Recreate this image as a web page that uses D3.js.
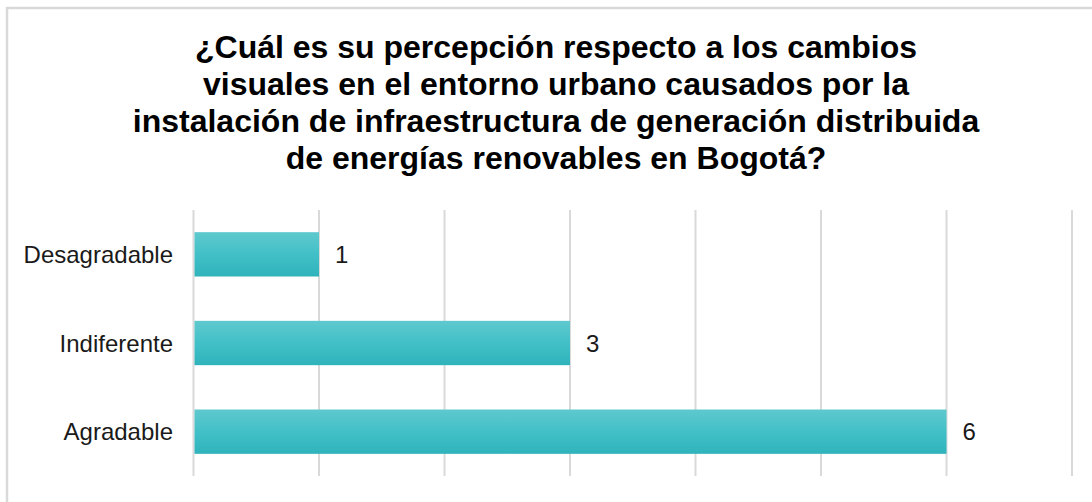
<!DOCTYPE html>
<html>
<head>
<meta charset="utf-8">
<script src="https://d3js.org/d3.v7.min.js"></script>
<style>
  body { margin: 0; background: #fff; }
  svg { display: block; font-family: "Liberation Sans", Arial, sans-serif; }
</style>
</head>
<body>
<div class="board"></div>
<script>
// globals
var width = 1092;
var height = 502;

// data
var categories = ['Desagradable', 'Indiferente', 'Agradable'];
var values = [1, 3, 6];
var tickValues = [0, 1, 2, 3, 4, 5, 6, 7];
var titleLines = [
  '¿Cuál es su percepción respecto a los cambios',
  'visuales en el entorno urbano causados por la',
  'instalación de infraestructura de generación distribuida',
  'de energías renovables en Bogotá?'
];

var svg = d3.select('.board').append('svg')
  .attr('width', width)
  .attr('height', height);

// bar gradient
var grad = svg.append('defs').append('linearGradient')
  .attr('id', 'barGrad')
  .attr('x1', 0).attr('y1', 0).attr('x2', 0).attr('y2', 1);
grad.append('stop').attr('offset', '0%').attr('stop-color', '#5ec9ce');
grad.append('stop').attr('offset', '50%').attr('stop-color', '#42c0c7');
grad.append('stop').attr('offset', '100%').attr('stop-color', '#2fb3bb');

// chart frame (runs off right/bottom like the screenshot)
svg.append('rect')
  .attr('x', 7).attr('y', 8)
  .attr('width', 1100).attr('height', 510)
  .attr('fill', 'none')
  .attr('stroke', '#d9d9d9')
  .attr('stroke-width', 2.5);

// title
svg.append('text')
  .attr('text-anchor', 'middle')
  .attr('font-weight', 'bold')
  .attr('font-size', 32)
  .attr('fill', '#000')
  .selectAll('tspan').data(titleLines)
  .enter().append('tspan')
  .attr('x', 556)
  .attr('y', function(d, i) { return 58 + i * 37; })
  .text(function(d) { return d; });

var x = d3.scaleLinear().domain([0, 7]).range([193.5, 1072]);
var y = d3.scaleBand().domain(categories).range([210, 476])
  .paddingInner(0.5).paddingOuter(0.25);

// gridlines
svg.append('g').selectAll('line').data(tickValues)
  .enter().append('line')
  .attr('x1', function(d) { return x(d); })
  .attr('x2', function(d) { return x(d); })
  .attr('y1', 210).attr('y2', 476)
  .attr('stroke', '#d9d9d9')
  .attr('stroke-width', 2);

// bars
svg.append('g').selectAll('rect').data(values)
  .enter().append('rect')
  .attr('x', x(0) + 1)
  .attr('y', function(d, i) { return y(categories[i]); })
  .attr('width', function(d) { return x(d) - x(0) - 1; })
  .attr('height', y.bandwidth())
  .attr('fill', 'url(#barGrad)');

// value labels
svg.append('g').selectAll('text').data(values)
  .enter().append('text')
  .attr('x', function(d) { return x(d) + 16; })
  .attr('y', function(d, i) { return y(categories[i]) + y.bandwidth() / 2; })
  .attr('dy', '0.36em')
  .attr('font-size', 24)
  .attr('fill', '#1a1a1a')
  .text(function(d) { return d; });

// category axis labels
svg.append('g').selectAll('text').data(categories)
  .enter().append('text')
  .attr('x', 173)
  .attr('y', function(d) { return y(d) + y.bandwidth() / 2; })
  .attr('dy', '0.36em')
  .attr('text-anchor', 'end')
  .attr('font-size', 24)
  .attr('fill', '#1a1a1a')
  .text(function(d) { return d; });
</script>
</body>
</html>
